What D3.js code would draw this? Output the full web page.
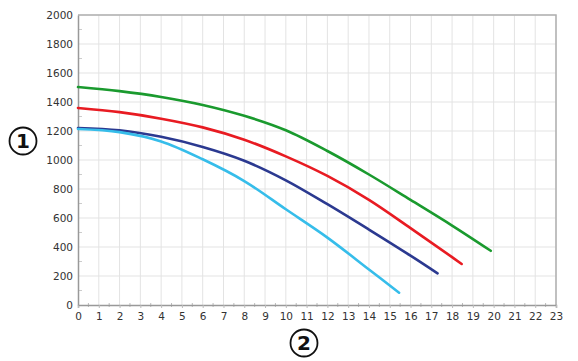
<!DOCTYPE html>
<html lang="en">
<head>
<meta charset="utf-8">
<title>Pump curves</title>
<script src="https://d3js.org/d3.v7.min.js"></script>
<style>
  body { margin: 0; background: #fff; }
  .tick text { font-family: "DejaVu Sans", sans-serif; font-size: 10.5px; fill: #333; }
  .grid line { stroke: #e3e3e3; stroke-width: 1; }
  .circ text { font-family: "DejaVu Sans", sans-serif; font-weight: bold; font-size: 20px; }
</style>
</head>
<body>
<div id="vis"></div>
<script>
const width = 578, height = 361;
const margin = {top: 15, right: 22, bottom: 56, left: 78};

// flow values (x) and head values (y) for each curve
const greenX = [0, 2, 4, 6, 8, 10, 12, 14, 16, 18, 19.86];
const greenY = [1503, 1475, 1435, 1380, 1305, 1205, 1062, 900, 725, 548, 374];
const redX = [0, 2, 4, 6, 8, 10, 12, 14, 16, 18, 18.46];
const redY = [1359, 1330, 1285, 1225, 1140, 1025, 890, 725, 530, 330, 283];
const navyX = [0, 2, 4, 6, 8, 10, 12, 14, 16, 17.3];
const navyY = [1221, 1205, 1160, 1090, 995, 860, 695, 520, 340, 218];
const cyanX = [0, 2, 4, 6, 8, 10, 12, 14, 15.45];
const cyanY = [1214, 1192, 1128, 1005, 855, 660, 465, 245, 85];

const seriesColors = ["#1a9a2e", "#e81b22", "#2b3990", "#36bdea"];
const xTicks = d3.range(0, 24);
const yTicks = d3.range(0, 2001, 200);

const series = [
  greenX.map((x, i) => [x, greenY[i]]),
  redX.map((x, i) => [x, redY[i]]),
  navyX.map((x, i) => [x, navyY[i]]),
  cyanX.map((x, i) => [x, cyanY[i]])
];

const svg = d3.select("#vis").append("svg")
  .attr("width", width).attr("height", height);

const x = d3.scaleLinear().domain([0, 23]).range([margin.left, width - margin.right]);
const y = d3.scaleLinear().domain([0, 2000]).range([height - margin.bottom, margin.top]);

// grid
svg.append("g").attr("class", "grid")
  .selectAll("line").data(xTicks.slice(1)).enter().append("line")
  .attr("x1", d => x(d)).attr("x2", d => x(d))
  .attr("y1", y(0)).attr("y2", y(2000));
svg.append("g").attr("class", "grid")
  .selectAll("line").data(yTicks.slice(1)).enter().append("line")
  .attr("x1", x(0)).attr("x2", x(23))
  .attr("y1", d => y(d)).attr("y2", d => y(d));

// frame top & right
svg.append("path")
  .attr("d", `M${x(0)},${y(2000)}H${x(23)}V${y(0)}`)
  .attr("fill", "none").attr("stroke", "#b0b0b0").attr("stroke-width", 1.5);

// minor ticks
svg.append("g").selectAll("line").data(d3.range(100, 2000, 200)).enter().append("line")
  .attr("x1", x(0)).attr("x2", x(0) + 4)
  .attr("y1", d => y(d)).attr("y2", d => y(d))
  .attr("stroke", "#ccc");
svg.append("g").selectAll("line").data(d3.range(0.5, 23, 1)).enter().append("line")
  .attr("x1", d => x(d)).attr("x2", d => x(d))
  .attr("y1", y(0) - 2).attr("y2", y(0) + 2)
  .attr("stroke", "#bbb");

// axes
const bottomAxis = d3.axisBottom(x).tickValues(xTicks).tickSize(3).tickPadding(5).tickFormat(d3.format("d"));
const gx = svg.append("g").attr("transform", `translate(0,${y(0)})`).call(bottomAxis);
gx.select(".domain").attr("stroke", "#999").attr("stroke-width", 1.5);
gx.selectAll(".tick line").attr("stroke", "#bbb");

const leftAxis = d3.axisLeft(y).tickValues(yTicks).tickSize(0).tickPadding(5).tickFormat(d3.format("d"));
const gy = svg.append("g").attr("transform", `translate(${x(0)},0)`).call(leftAxis);
gy.select(".domain").attr("stroke", "#999").attr("stroke-width", 1.5);

// curves
const line = d3.line().x(d => x(d[0])).y(d => y(d[1])).curve(d3.curveCatmullRom);
svg.append("g").selectAll("path").data(series).enter().append("path")
  .attr("d", line)
  .attr("fill", "none")
  .attr("stroke", (d, i) => seriesColors[i])
  .attr("stroke-width", 2.6)
  .attr("stroke-linecap", "round");

// circled labels
const circles = [{cx: 23, cy: 141, t: "1"}, {cx: 304, cy: 343, t: "2"}];
const cg = svg.append("g").attr("class", "circ").selectAll("g").data(circles).enter().append("g");
cg.append("circle").attr("cx", d => d.cx).attr("cy", d => d.cy).attr("r", 13.5)
  .attr("fill", "#fff").attr("stroke", "#111").attr("stroke-width", 1.8);
cg.append("text").attr("x", d => d.cx).attr("y", d => d.cy + 7)
  .attr("text-anchor", "middle").attr("fill", "#111").text(d => d.t);
</script>
</body>
</html>
